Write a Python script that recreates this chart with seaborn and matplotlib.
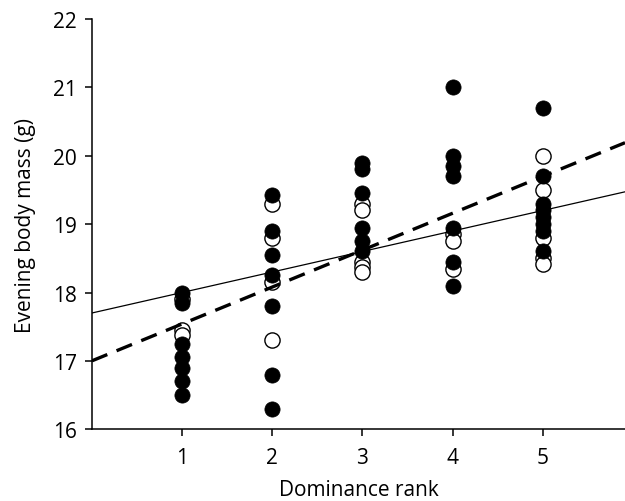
import matplotlib
matplotlib.use("Agg")
import matplotlib.pyplot as plt
import numpy as np
import pandas as pd
import seaborn as sns

# Filled circles
filled_rank = [1] * 7 + [2] * 7 + [3] * 6 + [4] * 7 + [5] * 8
filled_mass = [18.0, 17.85, 17.25, 17.05, 16.9, 16.7, 16.5,
               19.43, 18.9, 18.55, 18.25, 17.8, 16.8, 16.3,
               19.9, 19.8, 19.45, 18.95, 18.75, 18.6,
               21.0, 20.0, 19.85, 19.7, 18.95, 18.45, 18.1,
               20.7, 19.7, 19.3, 19.2, 19.1, 19.0, 18.9, 18.6]

# Open circles
open_rank = [1] * 3 + [2] * 4 + [3] * 5 + [4] * 3 + [5] * 5
open_mass = [17.9, 17.45, 17.38,
             19.3, 18.8, 18.15, 17.3,
             19.3, 19.2, 18.45, 18.38, 18.3,
             18.85, 18.75, 18.35,
             20.0, 19.5, 18.8, 18.5, 18.42]

# Regression lines: (intercept, slope)
solid_fit = (17.70, 0.30)
dashed_fit = (17.0, 0.54)

x_ticks = [1, 2, 3, 4, 5]
y_ticks = [16, 17, 18, 19, 20, 21, 22]

sns.set_style("ticks")
plt.rcParams["font.family"] = ["Open Sans", "DejaVu Sans"]

df_filled = pd.DataFrame({"rank": filled_rank, "mass": filled_mass})
df_open = pd.DataFrame({"rank": open_rank, "mass": open_mass})

fig = plt.figure(figsize=(6.25, 5.02), dpi=100)
ax = fig.add_axes([0.147, 0.143, 0.853, 0.817])

ax.set_xlim(0, 5.91)
ax.set_ylim(16, 22)

sns.scatterplot(data=df_open, x="rank", y="mass", ax=ax, s=120,
                color="white", edgecolor="black", linewidth=1.0, zorder=3)
sns.scatterplot(data=df_filled, x="rank", y="mass", ax=ax, s=120,
                color="black", edgecolor="black", linewidth=0.5, zorder=4)

xs = np.array(ax.get_xlim())
ax.plot(xs, solid_fit[0] + solid_fit[1] * xs, color="black", lw=0.9, zorder=5)
ax.plot(xs, dashed_fit[0] + dashed_fit[1] * xs, color="black", lw=2.4,
        dashes=(5, 3), zorder=5)

ax.set_xticks(x_ticks)
ax.set_yticks(y_ticks)
ax.tick_params(axis="both", labelsize=15, width=1.1, length=5, direction="out",
               colors="black")
ax.tick_params(axis="x", pad=8)
ax.tick_params(axis="y", pad=6)

for side in ["top", "right"]:
    ax.spines[side].set_visible(False)
for side in ["left", "bottom"]:
    ax.spines[side].set_linewidth(1.1)
    ax.spines[side].set_color("black")

ax.set_xlabel("Dominance rank", fontsize=15, labelpad=8, color="black")
ax.set_ylabel("Evening body mass (g)", fontsize=15, labelpad=12, color="black")

fig.savefig("out.png", dpi=100)
